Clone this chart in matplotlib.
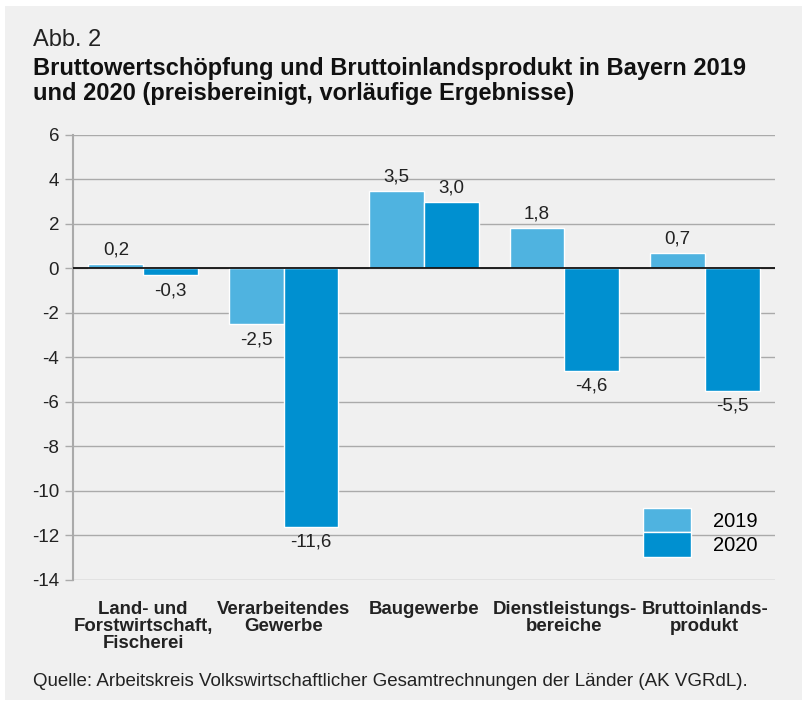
import matplotlib
matplotlib.use("Agg")
import matplotlib.pyplot as plt
import numpy as np
from matplotlib.patches import Patch

plt.rcParams['font.family'] = ['Liberation Sans', 'DejaVu Sans']

categories = ["Land- und\nForstwirtschaft,\nFischerei", "Verarbeitendes\nGewerbe",
              "Baugewerbe", "Dienstleistungs-\nbereiche", "Bruttoinlands-\nprodukt"]
v2019 = [0.2, -2.5, 3.5, 1.8, 0.7]
v2020 = [-0.3, -11.6, 3.0, -4.6, -5.5]
series_labels = ["2019", "2020"]
yticks = [6, 4, 2, 0, -2, -4, -6, -8, -10, -12, -14]

c19 = "#4fb3e0"
c20 = "#0090d0"
bg = "#f0f0f0"

W, H = 803, 706
fig = plt.figure(figsize=(W/100, H/100), dpi=100, facecolor="white")
fig.patches.append(plt.Rectangle((5/W, 6/H), (W-5)/W, (H-12)/H, transform=fig.transFigure,
                                 facecolor=bg, edgecolor="none", zorder=-10))

ax = fig.add_axes([73/W, 1-580/H, (775-73)/W, 445/H])
ax.set_facecolor(bg)
ax.patch.set_alpha(0)

x = np.arange(len(categories))
bw = 0.39
b1 = ax.bar(x - bw/2, v2019, bw, color=c19, edgecolor="white", linewidth=1, zorder=3)
b2 = ax.bar(x + bw/2, v2020, bw, color=c20, edgecolor="white", linewidth=1, zorder=3)

def fmt(v):
    return f"{v:.1f}".replace(".", ",")

for bars, vals in ((b1, v2019), (b2, v2020)):
    for b, v in zip(bars, vals):
        xc = b.get_x() + b.get_width()/2
        if v >= 0:
            ax.annotate(fmt(v), (xc, v), xytext=(0, 4), textcoords="offset points",
                        ha="center", va="bottom", fontsize=13.5, color="#222222")
        else:
            ax.annotate(fmt(v), (xc, v), xytext=(0, -5), textcoords="offset points",
                        ha="center", va="top", fontsize=13.5, color="#222222")

ax.set_xlim(-0.5, len(categories) - 0.5)
ax.set_ylim(-14, 6)
ax.set_yticks(yticks)
ax.set_yticklabels([str(t) for t in yticks], fontsize=13.5, color="#222222")
ax.yaxis.grid(True, color="#aaaaaa", linewidth=1, zorder=0)
ax.tick_params(axis="y", length=6, color="#aaaaaa", pad=4, width=1)
ax.axhline(0, color="#111111", linewidth=1.3, zorder=4)
for s in ("top", "right", "bottom"):
    ax.spines[s].set_visible(False)
ax.spines["left"].set_color("#aaaaaa")
ax.spines["left"].set_linewidth(1.5)

ax.set_xticks(x)
ax.set_xticklabels(categories, fontsize=13.4, fontweight="bold", color="#222222", linespacing=1.02)
ax.tick_params(axis="x", length=0, pad=15)

handles = [Patch(facecolor=c19, edgecolor="white"), Patch(facecolor=c20, edgecolor="white")]
ax.legend(handles, series_labels, loc="lower right", bbox_to_anchor=(0.995, 0.02),
          frameon=False, fontsize=14.5, handlelength=2.35, handleheight=1.5,
          labelspacing=0.0, handletextpad=1.1, borderpad=0.2)

fig.text(33/W, 1-40/H, "Abb. 2", fontsize=17, color="#222222", va="center", ha="left")
fig.text(33/W, 1-81/H, "Bruttowertschöpfung und Bruttoinlandsprodukt in Bayern 2019\nund 2020 (preisbereinigt, vorläufige Ergebnisse)",
         fontsize=17, fontweight="bold", color="#111111", va="center", ha="left", linespacing=1.1)
fig.text(33/W, 1-682/H, "Quelle: Arbeitskreis Volkswirtschaftlicher Gesamtrechnungen der Länder (AK VGRdL).",
         fontsize=13.5, color="#222222", va="center", ha="left")

fig.savefig("out.png", dpi=100, facecolor="white")
